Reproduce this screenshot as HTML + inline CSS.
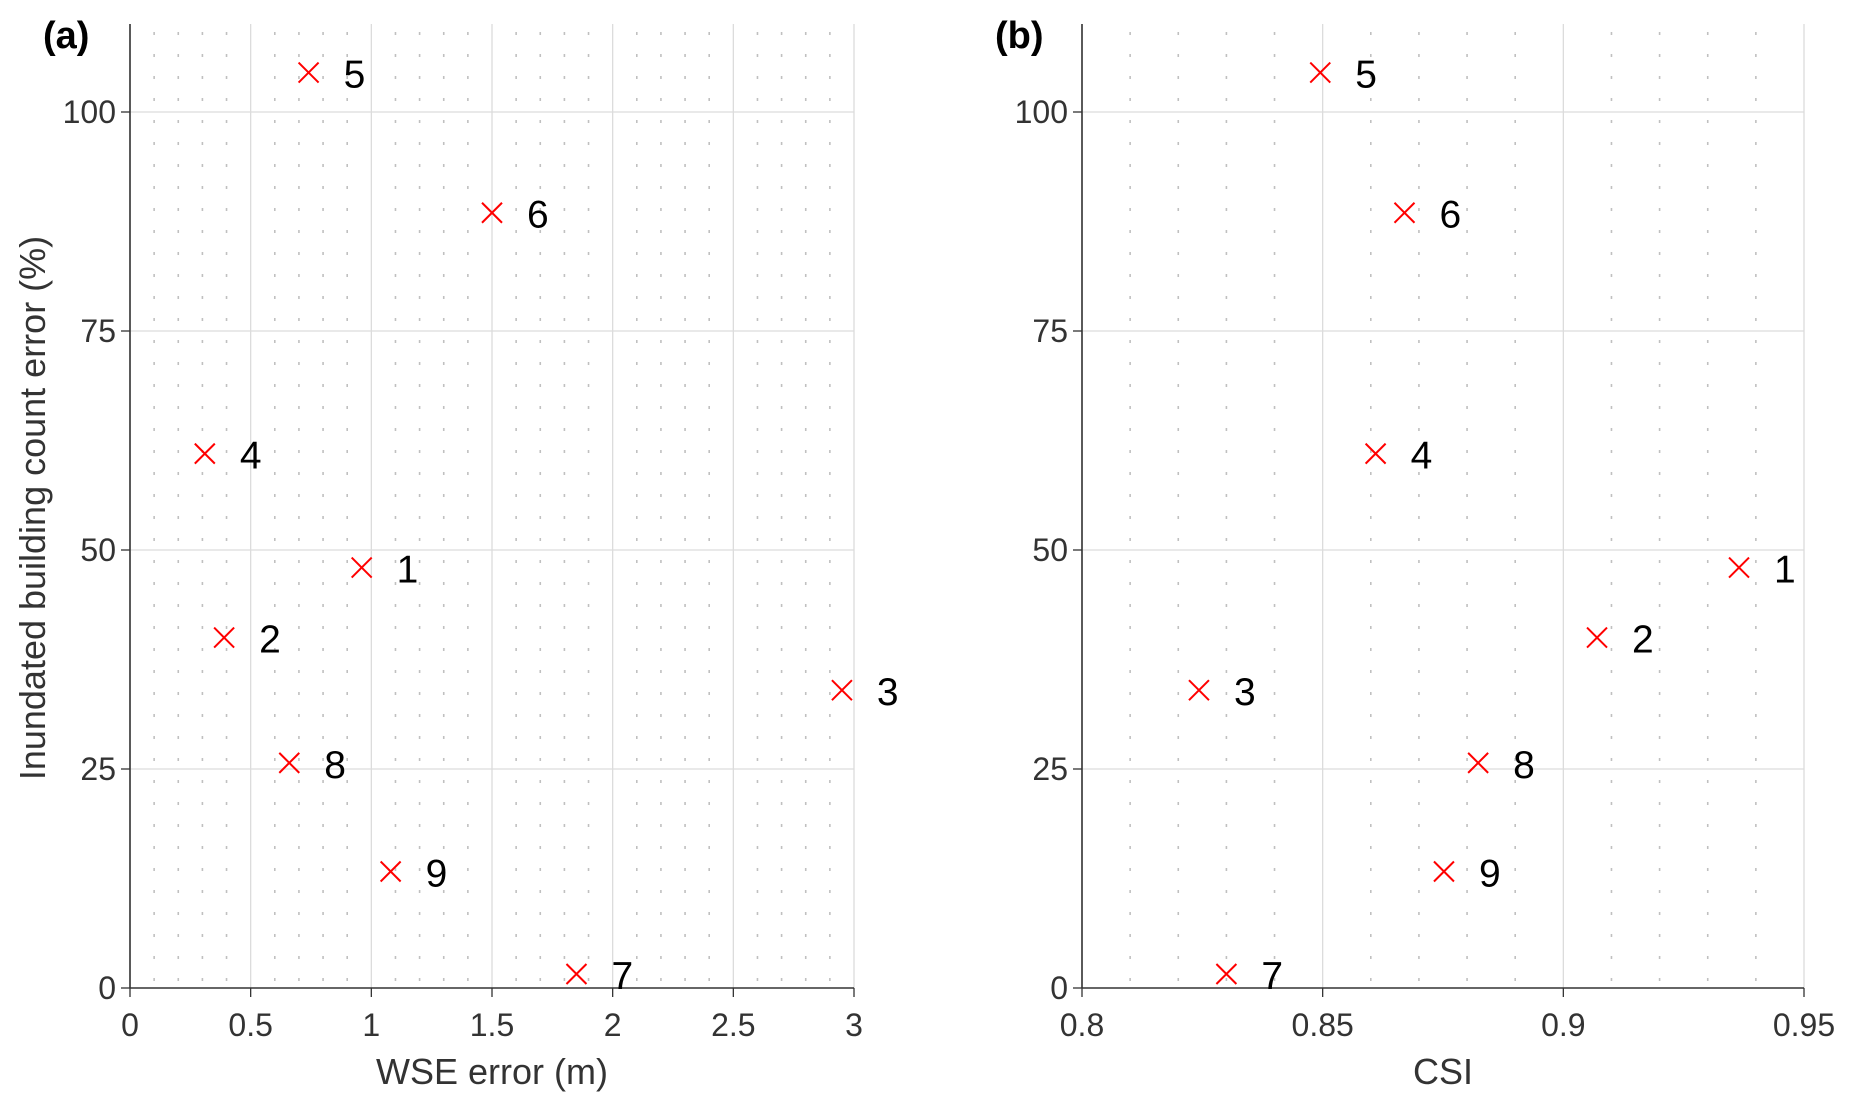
<!DOCTYPE html>
<html><head><meta charset="utf-8"><style>
html,body{margin:0;padding:0;background:#fff;}
svg{display:block;font-family:"Liberation Sans",Arial,sans-serif;}
</style></head><body>
<svg id="chart" width="1852" height="1109" viewBox="0 0 1852 1109"></svg>
<script>
const labels = ["1","2","3","4","5","6","7","8","9"];
const wseError = [0.96,0.39,2.95,0.31,0.74,1.5,1.85,0.66,1.08];
const csi = [0.9365,0.907,0.8243,0.861,0.8495,0.867,0.830,0.8823,0.8752];
const buildingError = [48,40,34,61,104.5,88.5,1.6,25.7,13.3];
const yTicks = [0,25,50,75,100];
const xTicksA = [0,0.5,1,1.5,2,2.5,3];
const xTickLabelsA = ["0","0.5","1","1.5","2","2.5","3"];
const xTicksB = [0.8,0.85,0.9,0.95];
const xTickLabelsB = ["0.8","0.85","0.9","0.95"];

const NS="http://www.w3.org/2000/svg";
const svg=document.getElementById('chart');
function mk(t,a,p){const e=document.createElementNS(NS,t);for(const k in a)e.setAttribute(k,a[k]);(p||svg).appendChild(e);return e;}
const plotTop=24,plotBottom=988;
const yS=v=>988-(v/100)*(988-112);

function panel(id,x0,x1,d0,d1,ticks,tickLabels,minorStep,xs,title,tag,showY){
  const g=mk('g',{});
  
  
  const xS=v=>x0+(v-d0)/(d1-d0)*(x1-x0);
  const major=ticks[1]-ticks[0];
  const nMinor=Math.round((d1-d0)/minorStep);
  for(let i=1;i<nMinor;i++){
    const v=d0+i*minorStep;
    const r=(v-d0)/major;
    if(Math.abs(r-Math.round(r))<1e-6) continue;
    const l=mk('line',{x1:xS(v),x2:xS(v),y1:plotTop+8,y2:plotBottom,stroke:'#c0c0c0','stroke-width':1.6,'stroke-dasharray':'3 19'},g);
    
    
  }
  ticks.forEach((t,i)=>{
    const l=mk('line',{x1:xS(t),x2:xS(t),y1:plotTop,y2:plotBottom,stroke:'#dcdcdc','stroke-width':1.3},g);
    
    
    mk('line',{x1:xS(t),x2:xS(t),y1:plotBottom,y2:plotBottom+9,stroke:'#333','stroke-width':1.3},g);
    const tx=mk('text',{x:xS(t),y:plotBottom+48,'font-size':32,fill:'#333','text-anchor':'middle'},g);
    tx.textContent=tickLabels[i];
    
    
  });
  yTicks.forEach(t=>{
    if(t>0){const l=mk('line',{x1:x0,x2:x1,y1:yS(t),y2:yS(t),stroke:'#dcdcdc','stroke-width':1.3},g);
    
    }
    mk('line',{x1:x0-9,x2:x0,y1:yS(t),y2:yS(t),stroke:'#333','stroke-width':1.3},g);
    const tx=mk('text',{x:x0-14,y:yS(t)+11,'font-size':32,fill:'#333','text-anchor':'end'},g);
    tx.textContent=String(t);
    
    
  });
  const ax=mk('line',{x1:x0,x2:x0,y1:plotTop,y2:plotBottom,stroke:'#333','stroke-width':1.6},g);
  
  
  const bx=mk('line',{x1:x0,x2:x1,y1:plotBottom,y2:plotBottom,stroke:'#333','stroke-width':1.6},g);
  
  
  xs.forEach((v,i)=>{
    const cx=xS(v),cy=yS(buildingError[i]),r=10;
    const m=mk('path',{d:`M${cx-r},${cy-r}L${cx+r},${cy+r}M${cx-r},${cy+r}L${cx+r},${cy-r}`,stroke:'#ff0000','stroke-width':2},g);
    
    
    const t=mk('text',{x:cx+35,y:cy+15,'font-size':39,fill:'#000'},g);
    t.textContent=labels[i];
    
    
  });
  const tt=mk('text',{x:(x0+x1)/2,y:1084,'font-size':36,fill:'#333','text-anchor':'middle'},g);
  tt.textContent=title;
  
  
  const pl=mk('text',{x:x0-87,y:48,'font-size':38,'font-weight':'bold',fill:'#000'},g);
  pl.textContent=tag;
  
  
  if(showY){
    const yt=mk('text',{x:0,y:0,'font-size':36,fill:'#333','text-anchor':'middle',transform:`translate(45,508) rotate(-90)`},g);
    yt.textContent='Inundated building count error (%)';
    
    
  }
}
panel('a',130,854,0,3,xTicksA,xTickLabelsA,0.1,wseError,'WSE error (m)','(a)',true);
panel('b',1082,1804,0.8,0.95,xTicksB,xTickLabelsB,0.01,csi,'CSI','(b)',false);
</script>
</body></html>
